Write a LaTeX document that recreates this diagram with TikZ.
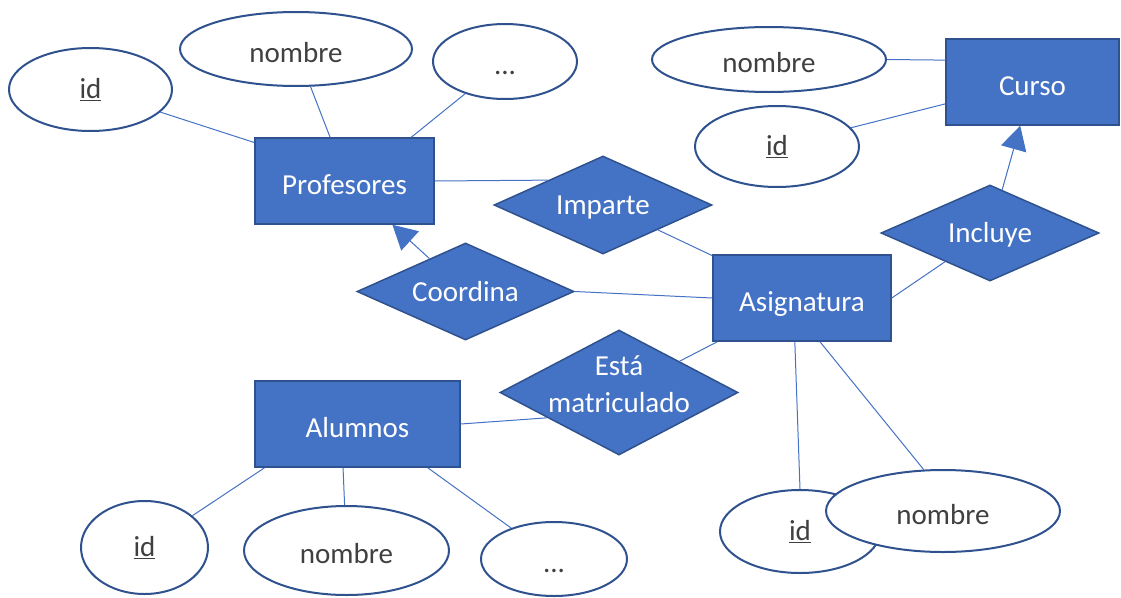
\documentclass[tikz,border=0pt]{standalone}
\usepackage{fontspec}
\setmainfont{Carlito}
\usetikzlibrary{shapes.geometric,calc,arrows.meta}
\definecolor{fillblue}{HTML}{4472C4}
\definecolor{edgeblue}{HTML}{2F528F}
\definecolor{txtgray}{HTML}{404040}
\tikzset{
  every node/.style={font=\fontsize{29}{34}\selectfont},
  entity/.style={rectangle, fill=fillblue, draw=edgeblue, line width=1.5pt, text=white, minimum height=86pt, inner sep=0pt, text height=26pt, text depth=0pt},
  attr/.style={ellipse, fill=white, draw=edgeblue, line width=2pt, text=txtgray, inner sep=0pt},
  lowtext/.style={text height=26pt, text depth=0pt},
  rel/.style={diamond, fill=fillblue, draw=edgeblue, line width=1.5pt, inner sep=0pt},
  reltext/.style={text=white, inner sep=0pt, text height=19pt, text depth=0pt},
  relline/.style={text=white, inner sep=0pt, anchor=base},
  conn/.style={draw=fillblue, line width=1pt},
  arr/.style={conn, -{Triangle[length=24pt,width=26pt]}, fill=fillblue},
}
\begin{document}
\begin{tikzpicture}[x=1pt,y=-1pt]
\useasboundingbox (0,0) rectangle (1121,597);

% entities
\node[entity, minimum width=179pt] (prof) at (344.5,181) {Profesores};
\node[entity, minimum width=173pt] (curso) at (1032.5,82) {Curso};
\node[entity, minimum width=178pt] (asig) at (802,298) {Asignatura};
\node[entity, minimum width=205pt] (alu) at (357.5,424) {Alumnos};

% relationships
\node[rel, minimum width=218pt, minimum height=98pt] (imp) at (603,205) {};
\node[reltext] (impt) at (imp) {Imparte};
\node[rel, minimum width=217pt, minimum height=97pt] (coo) at (465.5,291.5) {};
\node[reltext] (coot) at (coo) {Coordina};
\node[rel, minimum width=218pt, minimum height=96pt] (inc) at (990,233) {};
\node[reltext] (inct) at (inc) {Incluye};
\node[rel, minimum width=238pt, minimum height=125pt] (est) at (619,392.5) {};
\node[relline] (est1) at (619,375.7) {Está};
\node[relline] (est2) at (619,412.7) {matriculado};

% attributes
\node[attr, minimum width=163pt, minimum height=83pt] (pid) at (90.5,89.5) {\underline{id}};
\node[attr, lowtext, minimum width=232pt, minimum height=74pt] (pnom) at (296,49) {nombre};
\node[attr, lowtext, minimum width=144pt, minimum height=75pt] (pdots) at (505,61.5) {...};

\node[attr, lowtext, minimum width=234pt, minimum height=65pt] (cnom) at (769,59.5) {nombre};
\node[attr, minimum width=164pt, minimum height=81pt] (cid) at (777,146.5) {\underline{id}};

\node[attr, minimum width=127pt, minimum height=93pt] (aid) at (144.5,547.5) {\underline{id}};
\node[attr, lowtext, minimum width=205pt, minimum height=89pt] (anom) at (346.5,550.5) {nombre};
\node[attr, lowtext, minimum width=146pt, minimum height=74pt] (adots) at (554,559) {...};

\node[attr, minimum width=160pt, minimum height=83pt] (sid) at (800,531.5) {\underline{id}};
\node[attr, lowtext, minimum width=234pt, minimum height=82pt] (snom) at (943,511) {nombre};

% connectors: Profesores
\draw[conn] (pid) -- ($(prof.north west)!0.06!(prof.south west)$);
\draw[conn] (pnom) -- ($(prof.north west)!0.42!(prof.north east)$);
\draw[conn] (pdots) -- ($(prof.north west)!0.87!(prof.north east)$);
% Curso
\draw[conn] (cnom.east) -- ($(curso.north west)!0.25!(curso.south west)$);
\draw[conn] (cid) -- ($(curso.north west)!0.75!(curso.south west)$);
% Alumnos
\draw[conn] (aid) -- ($(alu.south west)!0.05!(alu.south east)$);
\draw[conn] (anom) -- ($(alu.south west)!0.43!(alu.south east)$);
\draw[conn] (adots) -- ($(alu.south west)!0.84!(alu.south east)$);
% Asignatura attributes
\draw[conn] ($(asig.south west)!0.46!(asig.south east)$) -- (sid.north);
\draw[conn] ($(asig.south west)!0.6!(asig.south east)$) -- (snom.115);
% relationships
\draw[conn] (prof.east) -- ($(imp.west)!0.5!(imp.north)$);
\draw[conn] ($(imp.east)!0.5!(imp.south)$) -- (asig);
\draw[conn] (coo.east) -- (asig.west);
\draw[arr] (coo) -- (prof);
\draw[conn] (asig) -- (est);
\draw[conn] (alu.east) -- ($(est.west)!0.4!(est.south)$);
\draw[conn] ($(inc.west)!0.59!(inc.south)$) -- (asig.east);
\draw[arr] (inc) -- (curso);
\end{tikzpicture}
\end{document}
